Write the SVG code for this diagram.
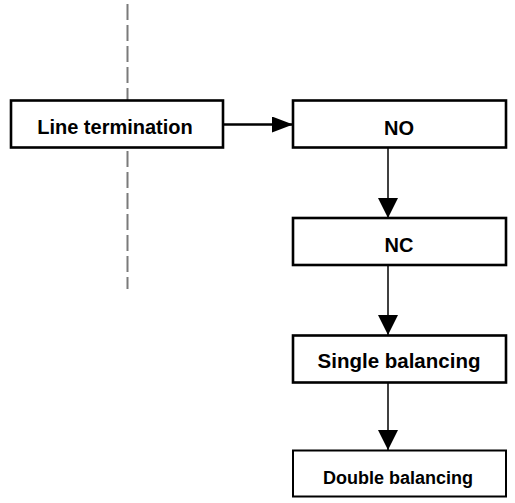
<svg xmlns="http://www.w3.org/2000/svg" width="515" height="503" viewBox="0 0 515 503">
<style>
.box{fill:#fff;stroke:#000;stroke-width:2.6}
.thin{stroke-width:2}
.lbl{font-family:"Liberation Sans",Arial,sans-serif;font-weight:bold;font-size:19px;fill:#000;text-anchor:middle}
.con{stroke:#000;fill:none}
</style>
<defs>
<marker id="ah" markerUnits="userSpaceOnUse" markerWidth="20" markerHeight="20" refX="20" refY="10" orient="auto">
<path d="M0,0 L20,10 L0,20 Z" fill="#000"/>
</marker>
<marker id="ahh" markerUnits="userSpaceOnUse" markerWidth="21" markerHeight="16" refX="21" refY="8" orient="auto">
<path d="M0,0 L21,8 L0,16 Z" fill="#000"/>
</marker>
</defs>
<line x1="127.5" y1="4" x2="127.5" y2="289" stroke="#7a7a7a" stroke-width="2" stroke-dasharray="16,5"/>
<g id="connectors">
<line class="con" x1="223" y1="124.5" x2="293" y2="124.5" stroke-width="2.4" marker-end="url(#ahh)"/>
<line class="con" x1="388" y1="148" x2="388" y2="218" stroke-width="1.5" marker-end="url(#ah)"/>
<line class="con" x1="388" y1="265" x2="388" y2="335" stroke-width="1.5" marker-end="url(#ah)"/>
<line class="con" x1="388" y1="383" x2="388" y2="450" stroke-width="1.5" marker-end="url(#ah)"/>
</g>
<g id="line-termination">
<rect class="box" x="11" y="100.5" width="212" height="47"/>
<text class="lbl" x="115" y="134" style="font-size:20px">Line termination</text>
</g>
<g id="no">
<rect class="box" x="293" y="100.5" width="213" height="47"/>
<text class="lbl" x="399" y="135" style="font-size:20px">NO</text>
</g>
<g id="nc">
<rect class="box" x="293" y="218" width="213" height="47"/>
<text class="lbl" x="399" y="251.5" style="font-size:20px">NC</text>
</g>
<g id="single-balancing">
<rect class="box" x="293" y="335.5" width="213" height="47"/>
<text class="lbl" x="399" y="368" style="font-size:20.5px">Single balancing</text>
</g>
<g id="double-balancing">
<rect class="box thin" x="293" y="450.5" width="213" height="46"/>
<text class="lbl" x="398" y="484" style="font-size:18px">Double balancing</text>
</g>
</svg>
